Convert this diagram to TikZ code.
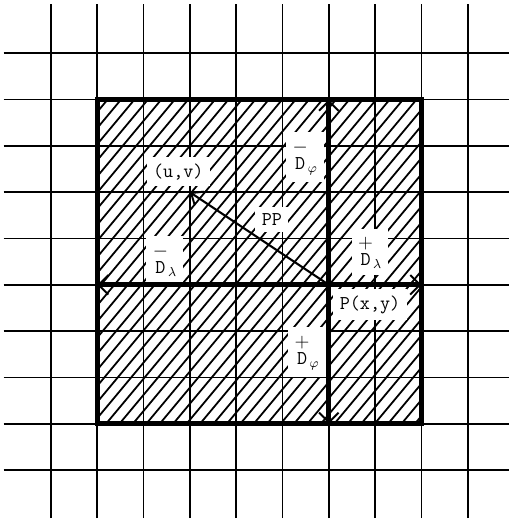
\documentclass[tikz,border=0pt]{standalone}
\usepackage{amsmath}
\usepackage{fontspec}
\usetikzlibrary{arrows.meta}

\newcommand{\dsym}[2]{$\overset{\raisebox{1pt}{$\textstyle #1$}}{\texttt{D}}_{#2}$}

\begin{document}
\begin{tikzpicture}[
  gridline/.style={line width=1.1pt},
  hatch/.style={line width=1.1pt},
  frame/.style={line width=3pt},
  barb/.style={-{Straight Barb[length=6pt,width=12pt,line width=1.2pt]}},
  lbl/.style={fill=white, inner sep=4pt, font=\ttfamily\fontsize{12}{14}\selectfont}
]
\useasboundingbox (-1.1,-1.1) rectangle (9.9,10.15);

 % grid
\foreach \i in {0,...,9} {
  \draw[gridline] (\i,-1.04) -- (\i,10.06);
  \draw[gridline] (-1.02,\i) -- (9.9,\i);
}

 % hatching
\begin{scope}
  \clip (1,1) rectangle (8,8);
  \foreach \k in {0,...,46}
    \draw[hatch] ({-4.9+0.29*\k},1) -- ++(5.9,7.08);
\end{scope}

 % points
\coordinate (P) at (6,4);
\coordinate (UV) at (3,6);
\coordinate (W) at (1,4);
\coordinate (E) at (8,4);
\coordinate (N) at (6,8);
\coordinate (S) at (6,1);

 % labels
\node[lbl] (uvlabel) at (2.75,6.44) {(u,v)};
\node[lbl] (pplabel) at (4.77,5.40) {PP};
\node[lbl] (pxy) at (6.89,3.57) {P(x,y)};
\node[lbl] (dlminus) at (2.46,4.54) {\dsym{-}{\lambda}};
\node[lbl] (dlplus) at (6.89,4.71) {\dsym{+}{\lambda}};
\node[lbl] (dpminus) at (5.49,6.76) {\dsym{-}{\varphi}};
\node[lbl] (dpplus) at (5.53,2.55) {\dsym{+}{\varphi}};

 % frame and cross
\draw[frame] (1,1) rectangle (8,8);
\draw[frame, barb] (P) -- (W);
\draw[frame, barb] (P) -- (E);
\draw[frame, barb] (P) -- (N);
\draw[frame, barb] (P) -- (S);

 % PP
\draw[line width=1.3pt, -{Straight Barb[length=6pt,width=10pt,line width=1.2pt]}] (P) -- (UV);
\end{tikzpicture}
\end{document}
